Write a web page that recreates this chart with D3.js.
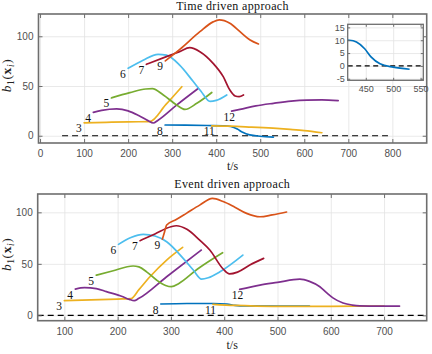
<!DOCTYPE html>
<html>
<head>
<meta charset="utf-8">
<script src="https://cdn.jsdelivr.net/npm/d3@7"></script>
<style>
  body { margin: 0; background: #fff; }
  svg { display: block; }
</style>
</head>
<body>
<svg id="chart" width="432" height="354"></svg>
<script>
// vehicle ids, same order in both panels
const vehicleIds = ["3", "4", "5", "6", "7", "8", "9", "11", "12"]

// time driven approach, [t, b1]
const time3 = [[100, 13], [150, 13.5], [200, 14], [249, 14.2], [286, 31.5], [322, 49.3]]
const time4 = [[121, 23.5], [140, 25.5], [174, 27], [200, 25], [225, 20], [245, 15.2], [257, 12.8], [268, 15.6], [310, 30.8], [359, 47.5]]
const time5 = [[162, 38], [204, 43.3], [240, 47], [255, 47.3], [280, 41], [310, 31], [329, 26.5], [356, 32.6], [390, 43.5]]
const time6 = [[200, 67.8], [234, 76], [268, 81.9], [287, 81], [317, 71], [347, 55], [365, 45], [386, 34.5], [400, 35.5], [424, 41]]
const time7 = [[241.5, 71.8], [287, 79.5], [317, 84.6], [340, 88.5], [363, 84.5], [393, 72.8], [416, 59.4], [431, 46], [443, 40], [452, 39.3], [462, 41]]
const time8 = [[284, 10.8], [330, 10.6], [380, 10.3], [420, 10], [433, 9.3], [448, 6.7], [460, 3.4], [476, 0.8], [500, -0.5], [530, -1.3]]
const time9 = [[284.5, 75.2], [318, 87], [363, 104.6], [393, 114.5], [407, 116.4], [431, 113], [454, 104.6], [477, 96.3], [496, 92.3]]
const time11 = [[390, 10], [431, 9.7], [480, 8.7], [537, 7.4], [568, 6.4], [600, 5.2], [640, 3]]
const time12 = [[435, 24.8], [454, 26.5], [490, 30], [530, 32.6], [570, 34.8], [606, 35.8], [640, 36], [677, 35.3]]
const timeSeries = [time3, time4, time5, time6, time7, time8, time9, time11, time12]

// event driven approach
const event3 = [[100, 14.2], [150, 15], [200, 15.8], [225, 16.2], [240, 25], [260.6, 37.5], [292, 53.7], [322, 66]]
const event4 = [[120.6, 25.5], [138, 26.9], [160, 26], [179, 23], [210, 18], [222, 15.5], [231, 14.2], [240, 16.5], [292, 37.5], [357, 63.4]]
const event5 = [[160, 39], [190, 43], [229, 47.9], [240, 47], [255, 42], [273, 34.3], [290, 29], [301, 27.8], [315, 31], [350, 45], [397, 60.8]]
const event6 = [[201.6, 68.9], [225, 75.5], [248, 78.6], [270, 77], [292, 71.5], [323, 55.3], [342, 44], [357.5, 35.2], [370, 36.5], [392, 42.3], [435, 58.5]]
const event7 = [[242, 72.5], [270, 79], [300, 86], [310, 87], [330, 83.5], [354, 73], [373, 63.4], [398, 45], [410, 40.2], [425, 42], [448, 48.8], [474, 55.3]]
const event8 = [[281, 11], [330, 11.5], [380, 11.5], [405, 11], [420, 9.7], [440, 9.1], [500, 9], [560, 9]]
const event9 = [[284, 74], [288, 81], [292, 87.7], [310, 93], [329, 99], [354, 107], [378, 113.6], [398, 110.5], [420, 105], [442, 99], [467, 95.7], [490, 97.5], [517, 100.3]]
const event11 = [[379, 10.7], [420, 9.6], [460, 9], [520, 8.7], [600, 8.8], [700, 9]]
const event12 = [[429, 25.2], [467, 29.4], [500, 32], [542, 35.2], [560, 33], [579.5, 27.8], [592, 22], [604, 17], [623, 12], [640, 10], [654.6, 9.2], [690, 9], [729, 9]]
const eventSeries = [event3, event4, event5, event6, event7, event8, event9, event11, event12]

// tick values
const timeXTicks = [0, 100, 200, 300, 400, 500, 600, 700, 800]
const eventXTicks = [100, 200, 300, 400, 500, 600, 700]
const bTicks = [0, 50, 100]
const insetXTicks = [450, 500, 550]
const insetYTicks = [-5, 0, 5, 10, 15]

// matlab default colour order, one per vehicle
const colors = ["#EDB120", "#7E2F8E", "#77AC30", "#4DBEEE", "#A2142F", "#0072BD", "#D95319", "#EDB120", "#7E2F8E"]

const svg = d3.select("#chart")
const serif = "'Liberation Serif', 'Times New Roman', serif"
const sans = "'Liberation Sans', Arial, sans-serif"
const frameColor = "#6e6e6e"
const tickColor = "#505050"

let clipCount = 0

function drawAxes(opts) {
    const x = d3.scaleLinear().domain(opts.xDom).range([opts.left, opts.right])
    const y = d3.scaleLinear().domain(opts.yDom).range([opts.bottom, opts.top])
    const w = opts.right - opts.left, h = opts.bottom - opts.top
    const g = svg.append("g")

    g.append("rect")
        .attr("x", opts.left).attr("y", opts.top)
        .attr("width", w).attr("height", h)
        .attr("fill", "#fff")

    // grid
    g.append("g")
        .attr("transform", `translate(0,${opts.bottom})`)
        .call(d3.axisBottom(x).tickValues(opts.xTicks).tickSize(-h).tickFormat(""))
        .call(a => a.select(".domain").remove())
        .selectAll("line").attr("stroke", "#e3e3e3").attr("stroke-width", 0.8)
    g.append("g")
        .attr("transform", `translate(${opts.left},0)`)
        .call(d3.axisLeft(y).tickValues(opts.yTicks).tickSize(-w).tickFormat(""))
        .call(a => a.select(".domain").remove())
        .selectAll("line").attr("stroke", "#e3e3e3").attr("stroke-width", 0.8)

    const id = "clip" + (clipCount++)
    svg.append("clipPath").attr("id", id)
        .append("rect")
        .attr("x", opts.left).attr("y", opts.top)
        .attr("width", w).attr("height", h)
    const plot = g.append("g").attr("clip-path", `url(#${id})`)

    return { x, y, g, plot }
}

function finishAxes(ax, opts) {
    const { x, y, g } = ax
    const tl = opts.tickLen
    const fs = opts.tickFont

    const bottom = g.append("g")
        .attr("transform", `translate(0,${opts.bottom})`)
        .call(d3.axisBottom(x).tickValues(opts.xTicks).tickSize(-tl).tickPadding(opts.xPad))
    const left = g.append("g")
        .attr("transform", `translate(${opts.left},0)`)
        .call(d3.axisLeft(y).tickValues(opts.yTicks).tickSize(-tl).tickPadding(opts.yPad).tickFormat(d => d < 0 ? "-" + Math.abs(d) : d))
    const top = g.append("g")
        .attr("transform", `translate(0,${opts.top})`)
        .call(d3.axisTop(x).tickValues(opts.xTicks).tickSize(-tl).tickFormat(""))
    const right = g.append("g")
        .attr("transform", `translate(${opts.right},0)`)
        .call(d3.axisRight(y).tickValues(opts.yTicks).tickSize(-tl).tickFormat(""))

    for (let a of [bottom, left, top, right]) {
        a.select(".domain").remove()
        a.selectAll("line").attr("stroke", frameColor).attr("stroke-width", 1)
        a.selectAll("text").attr("fill", tickColor).attr("font-family", sans).attr("font-size", fs)
    }

    g.append("rect")
        .attr("x", opts.left).attr("y", opts.top)
        .attr("width", opts.right - opts.left).attr("height", opts.bottom - opts.top)
        .attr("fill", "none")
        .attr("stroke", frameColor)
        .attr("stroke-width", opts.frameWidth)
}

function drawPanel(opts, series, title, titleY, xlabelY) {
    const ax = drawAxes(opts)
    const { x, y, plot, g } = ax

    plot.append("line")
        .attr("x1", x(50)).attr("x2", x(opts.dashEnd))
        .attr("y1", y(0)).attr("y2", y(0))
        .attr("stroke", "#000").attr("stroke-width", 1.2)
        .attr("stroke-dasharray", "6,4")

    const line = d3.line().x(d => x(d[0])).y(d => y(d[1])).curve(d3.curveMonotoneX)

    series.forEach((s, i) => {
        plot.append("path")
            .datum(s)
            .attr("d", line)
            .attr("fill", "none")
            .attr("stroke", colors[i])
            .attr("stroke-width", 1.7)
            .attr("stroke-linejoin", "round")
            .attr("stroke-linecap", "round")
    })

    // vehicle numbers just below left of each start point
    series.forEach((s, i) => {
        g.append("text")
            .attr("x", x(s[0][0]) - 8)
            .attr("y", y(s[0][1]) + 5.5)
            .attr("dy", "0.35em")
            .attr("font-family", serif)
            .attr("font-size", 11.5)
            .attr("fill", "#111")
            .text(vehicleIds[i])
    })

    finishAxes(ax, opts)

    const cx = (opts.left + opts.right) / 2
    svg.append("text")
        .attr("x", cx).attr("y", titleY)
        .attr("text-anchor", "middle")
        .attr("font-family", serif).attr("font-size", 12)
        .attr("letter-spacing", 0.35)
        .attr("fill", "#111")
        .text(title)

    svg.append("text")
        .attr("x", cx).attr("y", xlabelY)
        .attr("text-anchor", "middle")
        .attr("font-family", serif).attr("font-size", 12)
        .attr("fill", "#222")
        .text("t/s")

    const yl = svg.append("text")
        .attr("transform", `translate(11,${(opts.top + opts.bottom) / 2 - 3}) rotate(-90)`)
        .attr("text-anchor", "middle")
        .attr("font-family", serif).attr("font-size", 13.5)
        .attr("letter-spacing", 0.6)
        .attr("fill", "#222")
    yl.append("tspan").attr("font-style", "italic").text("b")
    yl.append("tspan").attr("font-size", 9.5).attr("dy", 2.5).text("1")
    yl.append("tspan").attr("dy", -2.5).text("(")
    yl.append("tspan").attr("font-weight", "bold").text("x")
    yl.append("tspan").attr("font-style", "italic").attr("font-size", 9.5).attr("dy", 2.5).text("i")
    yl.append("tspan").attr("dy", -2.5).text(")")

    return ax
}

const topOpts = {
    left: 38.5, right: 426.7, top: 14, bottom: 143,
    xDom: [-3.5, 878], yDom: [-7.3, 122.4],
    xTicks: timeXTicks, yTicks: bTicks,
    tickLen: 4, tickFont: 10, xPad: 7, yPad: 5, frameWidth: 1.6,
    dashEnd: 790
}
drawPanel(topOpts, timeSeries, "Time driven approach", 9.5, 169.5)

const botOpts = {
    left: 37.7, right: 426.7, top: 194, bottom: 320.7,
    xDom: [50, 780], yDom: [-5.2, 117.8],
    xTicks: eventXTicks, yTicks: bTicks,
    tickLen: 4, tickFont: 10, xPad: 7, yPad: 5, frameWidth: 1.6,
    dashEnd: 800
}
drawPanel(botOpts, eventSeries, "Event driven approach", 188, 349)

// inset: zoom on vehicle 8 crossing zero
const insetOpts = {
    left: 347.7, right: 423.3, top: 24.3, bottom: 80.3,
    xDom: [417, 555], yDom: [-5.6, 16.2],
    xTicks: insetXTicks, yTicks: insetYTicks,
    tickLen: 2.5, tickFont: 9, xPad: 5, yPad: 3, frameWidth: 1.3
}
const inset = drawAxes(insetOpts)
inset.plot.append("line")
    .attr("x1", inset.x(417)).attr("x2", inset.x(555))
    .attr("y1", inset.y(0)).attr("y2", inset.y(0))
    .attr("stroke", "#000").attr("stroke-width", 1.1)
    .attr("stroke-dasharray", "5,3.5")
inset.plot.append("path")
    .datum(time8)
    .attr("d", d3.line().x(d => inset.x(d[0])).y(d => inset.y(d[1])).curve(d3.curveMonotoneX))
    .attr("fill", "none")
    .attr("stroke", colors[5])
    .attr("stroke-width", 1.7)
finishAxes(inset, insetOpts)
</script>
</body>
</html>
